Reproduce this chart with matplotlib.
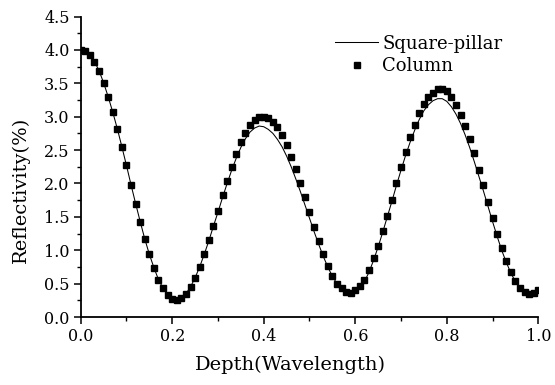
import matplotlib
matplotlib.use('Agg')
import matplotlib.pyplot as plt
from matplotlib.ticker import MultipleLocator, FormatStrFormatter

plt.rcParams['font.family'] = ['DejaVu Serif']

# depth in wavelengths, one sample every 0.01
depth = [i / 100 for i in range(101)]

column = [4.00, 3.99, 3.93, 3.82, 3.68, 3.51, 3.30, 3.07, 2.82, 2.55,
          2.27, 1.98, 1.70, 1.43, 1.17, 0.94, 0.73, 0.56, 0.43, 0.33,
          0.27, 0.25, 0.28, 0.35, 0.45, 0.59, 0.75, 0.95, 1.15, 1.37,
          1.59, 1.82, 2.04, 2.25, 2.44, 2.62, 2.76, 2.87, 2.95, 2.99,
          3.00, 2.98, 2.92, 2.84, 2.72, 2.57, 2.40, 2.21, 2.00, 1.79,
          1.57, 1.35, 1.14, 0.95, 0.77, 0.62, 0.50, 0.43, 0.38, 0.36,
          0.40, 0.46, 0.56, 0.70, 0.88, 1.07, 1.29, 1.52, 1.75, 2.00,
          2.24, 2.47, 2.69, 2.88, 3.05, 3.19, 3.30, 3.36, 3.41, 3.42,
          3.38, 3.30, 3.18, 3.02, 2.86, 2.66, 2.45, 2.20, 1.97, 1.73,
          1.48, 1.24, 1.03, 0.84, 0.67, 0.54, 0.44, 0.37, 0.34, 0.36,
          0.40]

square_pillar = [4.00, 3.98, 3.93, 3.83, 3.69, 3.51, 3.30, 3.07, 2.82, 2.55,
                 2.27, 1.98, 1.70, 1.43, 1.17, 0.94, 0.74, 0.56, 0.43, 0.33,
                 0.27, 0.25, 0.28, 0.35, 0.45, 0.59, 0.75, 0.94, 1.14, 1.36,
                 1.57, 1.79, 2.00, 2.20, 2.38, 2.54, 2.67, 2.77, 2.83, 2.86,
                 2.85, 2.81, 2.75, 2.66, 2.55, 2.41, 2.25, 2.07, 1.88, 1.68,
                 1.48, 1.28, 1.09, 0.91, 0.75, 0.61, 0.50, 0.42, 0.37, 0.35,
                 0.37, 0.43, 0.53, 0.67, 0.85, 1.05, 1.27, 1.50, 1.73, 1.97,
                 2.20, 2.42, 2.62, 2.80, 2.96, 3.09, 3.18, 3.24, 3.27, 3.27,
                 3.23, 3.15, 3.04, 2.90, 2.73, 2.54, 2.33, 2.11, 1.89, 1.66,
                 1.43, 1.21, 1.00, 0.82, 0.66, 0.53, 0.43, 0.36, 0.33, 0.35,
                 0.42]

fig = plt.figure(figsize=(5.55, 3.85), dpi=100)
ax = fig.add_axes([0.1454, 0.1766, 0.8245, 0.7804])

ax.plot(depth, square_pillar, '-', color='black', lw=0.75, label='Square-pillar')
ax.plot(depth, column, 's', color='black', ms=4.4, ls='none', label='Column')

ax.set_xlim(0, 1.0)
ax.set_ylim(0, 4.5)
ax.xaxis.set_major_locator(MultipleLocator(0.2))
ax.xaxis.set_minor_locator(MultipleLocator(0.1))
ax.yaxis.set_major_locator(MultipleLocator(0.5))
ax.yaxis.set_minor_locator(MultipleLocator(0.25))
ax.xaxis.set_major_formatter(FormatStrFormatter('%.1f'))
ax.yaxis.set_major_formatter(FormatStrFormatter('%.1f'))

for s in ['top', 'right']:
    ax.spines[s].set_visible(False)
for s in ['left', 'bottom']:
    ax.spines[s].set_linewidth(1.3)

ax.tick_params(which='major', direction='out', length=5, width=1.1,
               labelsize=11.5, pad=3)
ax.tick_params(which='minor', direction='out', length=3, width=1.0)

ax.set_xlabel('Depth(Wavelength)', fontsize=14)
ax.set_ylabel('Reflectivity(%)', fontsize=14)
ax.xaxis.set_label_coords(0.459, -0.128)
ax.yaxis.set_label_coords(-0.11, 0.423)

ax.legend(loc='upper left', bbox_to_anchor=(0.556, 0.94), frameon=False,
          fontsize=13, handlelength=2.4, handletextpad=0.2,
          labelspacing=0.25, borderpad=0, borderaxespad=0, markerscale=1.0)

fig.savefig('out.png', dpi=100)
